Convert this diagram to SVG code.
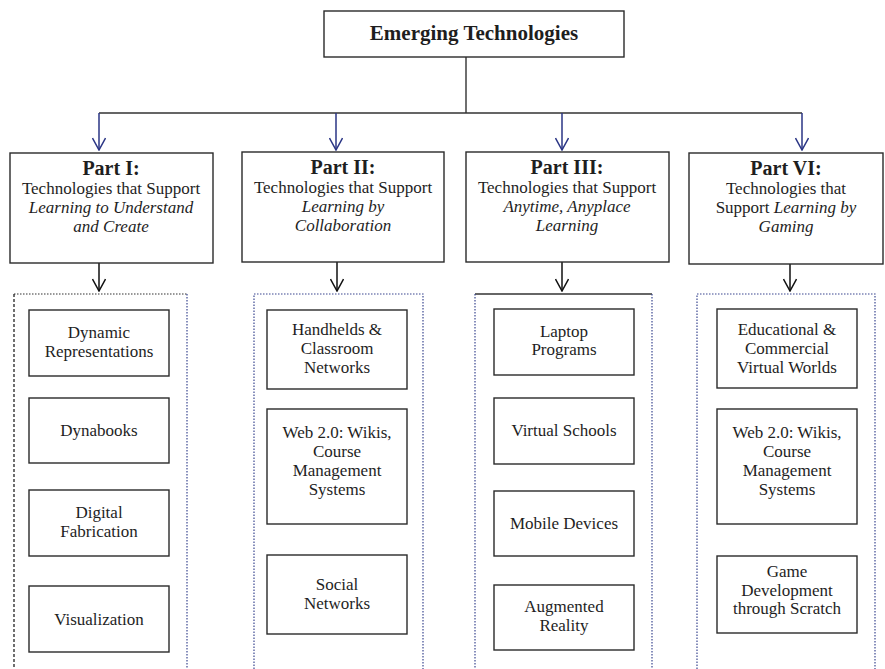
<svg xmlns="http://www.w3.org/2000/svg" width="885" height="669" viewBox="0 0 885 669">
  <style>
    .box { fill: #ffffff; stroke: #2a2a2a; stroke-width: 1.4; }
    .t { font-family: "Liberation Serif", "Times New Roman", serif; fill: #1e1e1e; text-anchor: middle; }
    .title { font-size: 21px; font-weight: bold; }
    .part { font-size: 20px; font-weight: bold; }
    .sub { font-size: 17px; }
    .it { font-style: italic; }
    .item { font-size: 17px; }
    .line { fill: none; stroke: #333333; stroke-width: 1.4; }
    .blue { fill: none; stroke: #2a3585; stroke-width: 1.5; }
    .down { fill: none; stroke: #111111; stroke-width: 1.5; }
    .dot { fill: none; stroke: #3a4690; stroke-width: 1.2; stroke-dasharray: 1.5 1.5; }
    .dotdark { fill: none; stroke: #333333; stroke-width: 1.2; stroke-dasharray: 1.5 1.5; }
    .dash { fill: none; stroke: #222222; stroke-width: 1.3; stroke-dasharray: 3 2; }
  </style>
  <defs>
    <!-- open chevron arrowheads -->
    <marker id="headBlue" viewBox="0 0 14 14" refX="13" refY="7" markerWidth="14" markerHeight="14" markerUnits="userSpaceOnUse" orient="auto">
      <path d="M1,0.5 L13,7 L1,13.5" fill="none" stroke="#2a3585" stroke-width="1.5"/>
    </marker>
    <marker id="headBlack" viewBox="0 0 14 14" refX="13" refY="7" markerWidth="14" markerHeight="14" markerUnits="userSpaceOnUse" orient="auto">
      <path d="M1,0.5 L13,7 L1,13.5" fill="none" stroke="#111111" stroke-width="1.5"/>
    </marker>
  </defs>

  <!-- connectors -->
  <g id="connectors">
    <path class="line" d="M466,57 V113 M99,113 H802"/>
    <g class="blue">
      <path d="M99,113 V150" marker-end="url(#headBlue)"/>
      <path d="M336,113 V150" marker-end="url(#headBlue)"/>
      <path d="M562,113 V150" marker-end="url(#headBlue)"/>
      <path d="M802,113 V150" marker-end="url(#headBlue)"/>
    </g>
    <g class="down">
      <path d="M99,263 V291" marker-end="url(#headBlack)"/>
      <path d="M337,262 V291" marker-end="url(#headBlack)"/>
      <path d="M562,262 V291" marker-end="url(#headBlack)"/>
      <path d="M790,264 V291" marker-end="url(#headBlack)"/>
    </g>
  </g>

  <!-- root -->
  <g id="root">
    <rect class="box" x="324" y="11" width="300" height="46"/>
    <text class="t title" x="474" y="40">Emerging Technologies</text>
  </g>

  <!-- part headers -->
  <g id="part1">
    <rect class="box" x="10" y="153" width="203" height="110"/>
    <text class="t part" x="111" y="175">Part I:</text>
    <text class="t sub" x="111" y="194">Technologies that Support</text>
    <text class="t sub it" x="111" y="213">Learning to Understand</text>
    <text class="t sub it" x="111" y="232">and Create</text>
  </g>
  <g id="part2">
    <rect class="box" x="242" y="152" width="202" height="110"/>
    <text class="t part" x="343" y="174">Part II:</text>
    <text class="t sub" x="343" y="193">Technologies that Support</text>
    <text class="t sub it" x="343" y="212">Learning by</text>
    <text class="t sub it" x="343" y="231">Collaboration</text>
  </g>
  <g id="part3">
    <rect class="box" x="466" y="152" width="203" height="110"/>
    <text class="t part" x="567" y="174">Part III:</text>
    <text class="t sub" x="567" y="193">Technologies that Support</text>
    <text class="t sub it" x="567" y="212">Anytime, Anyplace</text>
    <text class="t sub it" x="567" y="231">Learning</text>
  </g>
  <g id="part4">
    <rect class="box" x="689" y="153" width="194" height="111"/>
    <text class="t part" x="786" y="175">Part VI:</text>
    <text class="t sub" x="786" y="194">Technologies that</text>
    <text class="t sub" x="786" y="213">Support <tspan class="it">Learning by</tspan></text>
    <text class="t sub it" x="786" y="232">Gaming</text>
  </g>

  <!-- group frames -->
  <g id="frames">
    <path class="dotdark" d="M14,294 H187"/>
    <path class="dash" d="M14,294 V669"/>
    <path class="dot" d="M187,294 V669"/>
    <path class="dot" d="M254,669 V294 H423 V669"/>
    <path class="line" d="M475,294 H652"/>
    <path class="dot" d="M475,294 V669 M652,294 V669"/>
    <path class="dot" d="M697,669 V294 H875 V669"/>
  </g>

  <!-- column I -->
  <g id="dynamic-representations">
    <rect class="box" x="29" y="310" width="140" height="66"/>
    <text class="t item" x="99" y="338">Dynamic</text>
    <text class="t item" x="99" y="357">Representations</text>
  </g>
  <g id="dynabooks">
    <rect class="box" x="29" y="398" width="140" height="65"/>
    <text class="t item" x="99" y="436">Dynabooks</text>
  </g>
  <g id="digital-fabrication">
    <rect class="box" x="29" y="490" width="140" height="66"/>
    <text class="t item" x="99" y="518">Digital</text>
    <text class="t item" x="99" y="537">Fabrication</text>
  </g>
  <g id="visualization">
    <rect class="box" x="29" y="586" width="140" height="66"/>
    <text class="t item" x="99" y="625">Visualization</text>
  </g>

  <!-- column II -->
  <g id="handhelds">
    <rect class="box" x="267" y="310" width="140" height="79"/>
    <text class="t item" x="337" y="335">Handhelds &amp;</text>
    <text class="t item" x="337" y="354">Classroom</text>
    <text class="t item" x="337" y="373">Networks</text>
  </g>
  <g id="web20-a">
    <rect class="box" x="267" y="409" width="140" height="115"/>
    <text class="t item" x="337" y="438">Web 2.0: Wikis,</text>
    <text class="t item" x="337" y="457">Course</text>
    <text class="t item" x="337" y="476">Management</text>
    <text class="t item" x="337" y="495">Systems</text>
  </g>
  <g id="social-networks">
    <rect class="box" x="267" y="555" width="140" height="79"/>
    <text class="t item" x="337" y="590">Social</text>
    <text class="t item" x="337" y="609">Networks</text>
  </g>

  <!-- column III -->
  <g id="laptop-programs">
    <rect class="box" x="494" y="309" width="140" height="66"/>
    <text class="t item" x="564" y="337">Laptop</text>
    <text class="t item" x="564" y="355">Programs</text>
  </g>
  <g id="virtual-schools">
    <rect class="box" x="494" y="398" width="140" height="66"/>
    <text class="t item" x="564" y="436">Virtual Schools</text>
  </g>
  <g id="mobile-devices">
    <rect class="box" x="494" y="491" width="140" height="65"/>
    <text class="t item" x="564" y="529">Mobile Devices</text>
  </g>
  <g id="augmented-reality">
    <rect class="box" x="494" y="585" width="140" height="65"/>
    <text class="t item" x="564" y="612">Augmented</text>
    <text class="t item" x="564" y="631">Reality</text>
  </g>

  <!-- column IV -->
  <g id="virtual-worlds">
    <rect class="box" x="717" y="309" width="140" height="79"/>
    <text class="t item" x="787" y="335">Educational &amp;</text>
    <text class="t item" x="787" y="354">Commercial</text>
    <text class="t item" x="787" y="373">Virtual Worlds</text>
  </g>
  <g id="web20-b">
    <rect class="box" x="717" y="409" width="140" height="115"/>
    <text class="t item" x="787" y="438">Web 2.0: Wikis,</text>
    <text class="t item" x="787" y="457">Course</text>
    <text class="t item" x="787" y="476">Management</text>
    <text class="t item" x="787" y="495">Systems</text>
  </g>
  <g id="scratch">
    <rect class="box" x="717" y="556" width="140" height="77"/>
    <text class="t item" x="787" y="577">Game</text>
    <text class="t item" x="787" y="596">Development</text>
    <text class="t item" x="787" y="614">through Scratch</text>
  </g>
</svg>
